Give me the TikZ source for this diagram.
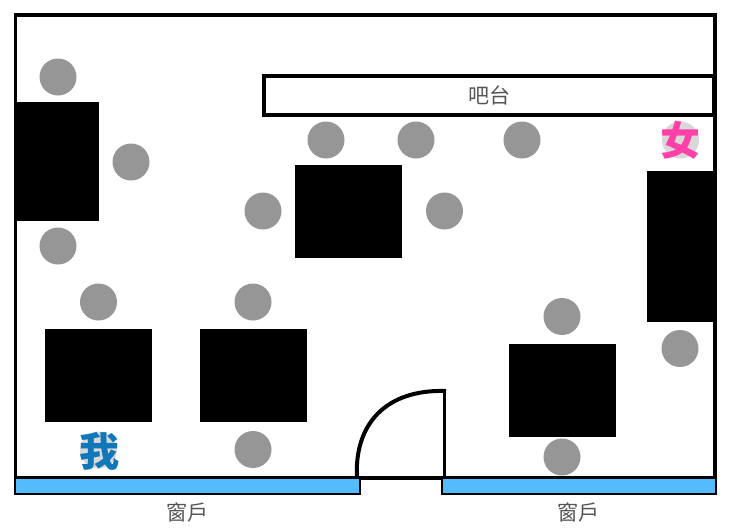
\documentclass[tikz,border=0pt]{standalone}
\usepackage{fontspec}
\newfontfamily\cjk{Noto Sans CJK TC}
\newfontfamily\cjkb{Noto Sans CJK SC}
\definecolor{seat}{HTML}{969696}
\definecolor{seatlight}{HTML}{D8D8D8}
\definecolor{glass}{HTML}{55BBFF}
\definecolor{labelgrey}{HTML}{555555}
\definecolor{me}{HTML}{1077B8}
\definecolor{her}{HTML}{FF40A8}
\tikzset{
  every node/.style={inner sep=0pt,outer sep=0pt},
  desk/.style={fill=black,draw=none,minimum width=#1},
  seatdot/.style={circle,fill=seat,draw=none,minimum size=37},
  lightdot/.style={circle,fill=seatlight,draw=none,minimum size=37},
  pane/.style={rectangle,fill=glass,draw=black,line width=2.5},
  wall/.style={draw=black,line width=3.5},
  barbox/.style={rectangle,draw=black,line width=4,fill=white},
  lbl/.style={text=labelgrey,font=\cjk\fontsize{21}{21}\selectfont},
  personme/.style={font=\cjkb\bfseries\fontsize{40}{40}\selectfont},
  personher/.style={font=\cjkb\bfseries\fontsize{40}{40}\selectfont}
}
\begin{document}
\begin{tikzpicture}[x=1pt,y=-1pt]
\useasboundingbox (0,0) rectangle (740,528);
\fill[white] (0,0) rectangle (740,528);
\node[wall,rectangle,minimum width=699.5,minimum height=463,anchor=north west] (room) at (15.5,15) {};
\node[barbox,minimum width=450,minimum height=39,anchor=north west,label={[lbl]center:吧台}] (bar) at (264,76) {};
% tables
\node[desk=84,minimum height=119,anchor=north west] (t1) at (15,102) {};
\node[desk=107,minimum height=93,anchor=north west] (t2) at (295,165) {};
\node[desk=67,minimum height=151,anchor=north west] (t3) at (647,171) {};
\node[desk=107,minimum height=93,anchor=north west] (t4) at (45,329) {};
\node[desk=107,minimum height=93,anchor=north west] (t5) at (200,329) {};
\node[desk=107,minimum height=93,anchor=north west] (t6) at (509,344) {};
% seats
\node[seatdot] (s1) at (58,77) {};
\node[seatdot] (s2) at (131,162) {};
\node[seatdot] (s3) at (58,246) {};
\node[seatdot] (s4) at (326,140) {};
\node[seatdot] (s5) at (416,140) {};
\node[seatdot] (s6) at (522,140) {};
\node[seatdot] (s7) at (263,211) {};
\node[seatdot] (s8) at (444.5,211) {};
\node[seatdot] (s9) at (98.5,302) {};
\node[seatdot] (s10) at (253,302) {};
\node[seatdot] (s11) at (253,449.5) {};
\node[seatdot] (s12) at (562,316.5) {};
\node[seatdot] (s13) at (680,348.5) {};
\node[seatdot] (s14) at (562,457) {};
\node[lightdot] (me) at (98.5,450) {};
\node[lightdot] (her) at (680.5,140) {};
\node[personme,text=me] (melabel) at (99,451) {我};
\node[personher,text=her] (herlabel) at (680.5,140) {女};
% door
\draw[line width=4] (357,478) .. controls (354,425) and (385,389) .. (446,391);
\draw[line width=3.5] (444.5,391) -- (444.5,478);
\draw[line width=2.5] (360,479) -- (442,479);
% windows
\node[pane,minimum width=345,minimum height=16,anchor=north west] (w1) at (15,478) {};
\node[pane,minimum width=274,minimum height=16,anchor=north west] (w2) at (442,478) {};
\node[lbl] (wl1) at (187.5,512.5) {窗戶};
\node[lbl] (wl2) at (578,512.5) {窗戶};
\end{tikzpicture}
\end{document}
